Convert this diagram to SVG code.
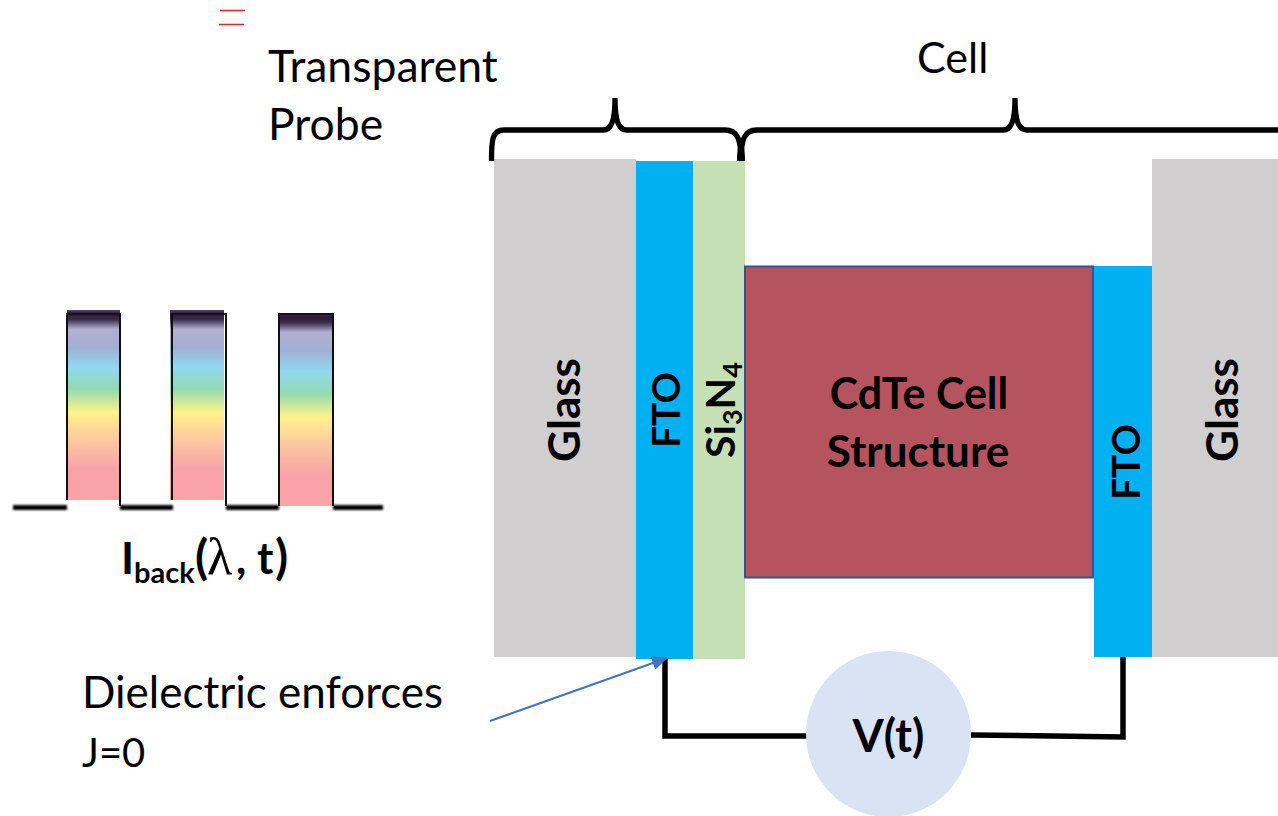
<svg xmlns="http://www.w3.org/2000/svg" width="1278" height="816" viewBox="0 0 1278 816">
<style>
text{font-family:"Lato","Open Sans","Liberation Sans",sans-serif;fill:#000}
.b{font-weight:700}
.wire{fill:none;stroke:#000;stroke-width:5.500}
.brace{fill:none;stroke:#000;stroke-width:5.300}
.trace{fill:none;stroke:#111;stroke-width:2}
.base{fill:none;stroke:#000;stroke-width:5}
</style>
<defs>
<linearGradient id="rb" x1="0" y1="0" x2="0" y2="1">
<stop offset="0" stop-color="#5a4670"/>
<stop offset="0.02" stop-color="#2a1a3a"/>
<stop offset="0.05" stop-color="#3a2c4c"/>
<stop offset="0.1" stop-color="#b3aed0"/>
<stop offset="0.2" stop-color="#a0b0d4"/>
<stop offset="0.3" stop-color="#90d8f0"/>
<stop offset="0.42" stop-color="#94dbb0"/>
<stop offset="0.54" stop-color="#fff38a"/>
<stop offset="0.68" stop-color="#fbc9a0"/>
<stop offset="0.84" stop-color="#f9a2a8"/>
<stop offset="1" stop-color="#f9a2a8"/>
</linearGradient>
<filter id="soft" filterUnits="userSpaceOnUse" x="0" y="495" width="400" height="25"><feGaussianBlur stdDeviation="1.200"/></filter>
<marker id="ah" markerUnits="userSpaceOnUse" markerWidth="16" markerHeight="14" refX="15" refY="7" orient="auto"><path d="M0,0L16,7L0,14Z" fill="#4472c4"/></marker>
</defs>
<g id="red-mark"><path d="M220 10.500H245M219 24.500H244" fill="none" stroke="#ff1a28" stroke-width="1.300"/></g>
<g id="glass-left"><rect x="494" y="159" width="142" height="498" fill="#d0cece"/><text class="b" transform="translate(580,410) rotate(-90)" font-size="44" text-anchor="middle">Glass</text></g>
<g id="fto-left"><rect x="636" y="161" width="57" height="498" fill="#00b0f0"/><text class="b" transform="translate(680,410) rotate(-90)" font-size="39" text-anchor="middle">FTO</text></g>
<g id="si3n4"><rect x="693" y="161" width="52" height="498" fill="#c5e0b4"/><text class="b" transform="translate(735,410) rotate(-90)" font-size="41" text-anchor="middle">Si<tspan font-size="27" dy="7">3</tspan><tspan dy="-7">N</tspan><tspan font-size="27" dy="7">4</tspan></text></g>
<g id="cdte"><rect x="745" y="266.500" width="348" height="311" fill="#b5535f" stroke="#2f5597" stroke-width="2"/><text class="b" x="919" y="409" font-size="43" text-anchor="middle">CdTe Cell</text><text class="b" x="918" y="467" font-size="44" text-anchor="middle">Structure</text></g>
<g id="fto-right"><rect x="1094" y="266" width="58" height="391" fill="#00b0f0"/><text class="b" transform="translate(1140,462) rotate(-90)" font-size="39" text-anchor="middle">FTO</text></g>
<g id="glass-right"><rect x="1152" y="159" width="126" height="498" fill="#d0cece"/><text class="b" transform="translate(1238,410) rotate(-90)" font-size="44" text-anchor="middle">Glass</text></g>
<g id="connectors">
<path class="wire" d="M665 659V736H808"/>
<path class="wire" d="M971 735L1123 737V657"/>
<path d="M490 721L667 658" fill="none" stroke="#4472c4" stroke-width="2" marker-end="url(#ah)"/>
<path class="brace" d="M491.500 161C491.500 140 492 130 504 130H603C611 130 615 122 615 98C615 122 619 130 627 130H725C738 130 741 140 741 161C741 140 744 130 757 130H1003C1011 130 1015 122 1015 98C1015 122 1019 130 1027 130H1278"/>
<path d="M737 161C737 148 739 142 741 138C743 142 745 148 745 161Z" fill="#000"/>
</g>
<g id="vsource"><ellipse cx="888.500" cy="734" rx="82.500" ry="83" fill="#dae3f3"/><text class="b" x="888.500" y="752" font-size="45" text-anchor="middle">V(t)</text></g>
<g id="pulses">
<rect x="67" y="310" width="53" height="190" fill="url(#rb)"/>
<rect x="170" y="310" width="54" height="190" fill="url(#rb)"/>
<rect x="279" y="313" width="54" height="193" fill="url(#rb)"/>
<path class="trace" d="M67 500V314H120V506M172 500V314H226V506M279 506V314H333V506"/>
<path class="base" filter="url(#soft)" d="M13 507.500H67M120 507.500H173M226 507.500H279M333 507.500H383"/>
</g>
<g id="labels">
<text x="268" y="82" font-size="44.500">Transparent</text>
<text x="268" y="140" font-size="44.500">Probe</text>
<text x="917" y="73" font-size="43">Cell</text>
<text x="82" y="708" font-size="44">Dielectric enforces</text>
<text x="82" y="767" font-size="40">J=0</text>
<text class="b" x="121" y="574" font-size="44">I<tspan font-size="29" dy="9">back</tspan></text>
<text class="b" x="195" y="574" font-size="48">(</text>
<text x="207" y="574" font-size="52" style="font-family:'Liberation Serif',serif">λ</text>
<text class="b" x="236" y="574" font-size="44">, t</text>
<text class="b" x="275" y="574" font-size="48">)</text>
</g>
</svg>
